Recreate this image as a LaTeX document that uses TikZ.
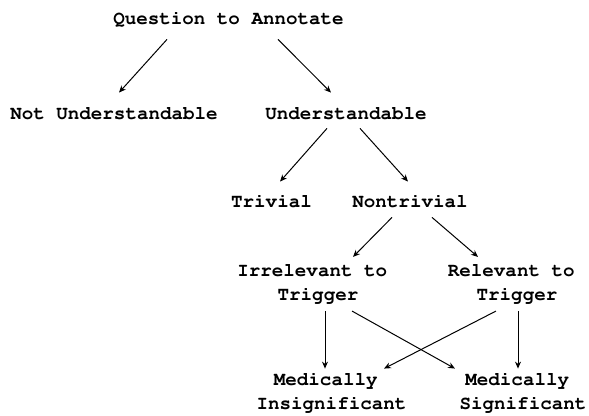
\documentclass[tikz,border=0pt]{standalone}
\usepackage[T1,TU]{fontenc}
\usepackage{tikz}
\usetikzlibrary{arrows.meta}

\tikzset{
	lbl/.style={inner sep=0pt, align=center, font=\fontencoding{T1}\fontfamily{pcr}\fontseries{b}\fontsize{9.6}{12}\selectfont, execute at begin node=\strut},
	arr/.style={-{Stealth[length=3.5pt,width=3pt]}, line width=0.5pt}
}

\begin{document}
\begin{tikzpicture}[x=0.5pt,y=-0.5pt]
	\useasboundingbox (0,0) rectangle (589,416);
	\node[lbl] (quest) at (228.5,20.2) {Question to Annotate};
	\node[lbl] (notund) at (114,115.2) {Not Understandable};
	\node[lbl] (und) at (346,115.2) {Understandable};
	\node[lbl] (triv) at (271.5,203.2) {Trivial};
	\node[lbl] (nontriv) at (410,203.2) {Nontrivial};
	\node[lbl] (irrel) at (318,286.2) {Irrelevant to\ \null\\\strut Trigger};
	\node[lbl] (rel) at (517,286.2) {Relevant to\ \null\\\strut Trigger};
	\node[lbl] (insig) at (331.5,395.2) {Medically\ \null\\\strut Insignificant};
	\node[lbl] (sig) at (523,395.2) {Medically\ \null\\\strut Significant};
	\draw[arr] ([shift={(-61.5,6.8)}]quest.south) -- ([shift={(5,-10.2)}]notund.north);
	\draw[arr] ([shift={(49.5,6.8)}]quest.south) -- ([shift={(-15,-10.2)}]und.north);
	\draw[arr] ([shift={(-19,0.8)}]und.south) -- ([shift={(8.5,-9.2)}]triv.north);
	\draw[arr] ([shift={(14,0.8)}]und.south) -- ([shift={(-2,-9.2)}]nontriv.north);
	\draw[arr] ([shift={(-18,1.8)}]nontriv.south) -- ([shift={(35,-7.2)}]irrel.north);
	\draw[arr] ([shift={(22,1.8)}]nontriv.south) -- ([shift={(-39,-7.2)}]rel.north);
	\draw[arr] ([shift={(7,2.8)}]irrel.south) -- ([shift={(-6.5,-4.2)}]insig.north);
	\draw[arr] ([shift={(34,2.8)}]irrel.south) -- ([shift={(-68,-4.2)}]sig.north);
	\draw[arr] ([shift={(-21,2.8)}]rel.south) -- ([shift={(52.5,-4.2)}]insig.north);
	\draw[arr] ([shift={(1,2.8)}]rel.south) -- ([shift={(-5,-4.2)}]sig.north);
\end{tikzpicture}
\end{document}
